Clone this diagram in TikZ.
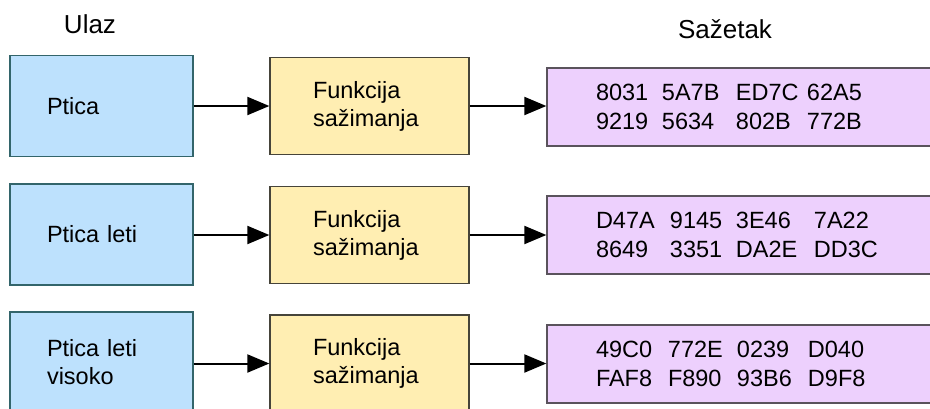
\documentclass[tikz,border=0pt]{standalone}
\usepackage{fontspec}
\setmainfont{Liberation Sans}
\usetikzlibrary{arrows.meta}

\definecolor{inFill}{HTML}{BDE1FD}
\definecolor{inLine}{HTML}{33656B}
\definecolor{fnFill}{HTML}{FFEEB2}
\definecolor{fnLine}{HTML}{46443A}
\definecolor{dgFill}{HTML}{EDD0FD}
\definecolor{dgLine}{HTML}{5A535C}

% four hex groups set in fixed-width columns
\newcommand\hexgroups[7]{\makebox[#1][l]{#4}\makebox[#2][l]{#5}\makebox[#3][l]{#6}#7}

\begin{document}
\begin{tikzpicture}[x=1pt,y=-1pt,
  box/.style={rectangle, line width=1.3pt, align=left, inner ysep=0pt,
    font=\fontsize{23.5}{28}\selectfont},
  inbox/.style={box, fill=inFill, draw=inLine, text width=109pt,
    inner xsep=37pt, minimum height=101pt},
  fnbox/.style={box, fill=fnFill, draw=fnLine, text width=113pt,
    inner xsep=43pt, minimum height=97pt},
  dgbox/.style={box, fill=dgFill, draw=dgLine, text width=302pt,
    inner xsep=49pt, minimum height=78pt,
    font=\fontsize{23.5}{29}\selectfont},
  heading/.style={anchor=base, font=\fontsize{26}{30}\selectfont},
  flow/.style={-{Triangle[length=22pt,width=18pt]}, line width=2pt, black}
]
\useasboundingbox (0,0) rectangle (930,408);
\clip (0,0) rectangle (930,408);

% column headings
\node[heading] (hIn) at (90,33) {Ulaz};
\node[heading] (hOut) at (725,38) {Sažetak};

% row 1
\node[inbox] (in1) at (101.5,106) {Ptica};
\node[fnbox] (fn1) at (369.5,106) {Funkcija\\sažimanja};
\node[dgbox] (dg1) at (747,107) {%
  \hexgroups{66pt}{74pt}{71pt}{8031}{5A7B}{ED7C}{62A5}\\
  \hexgroups{66pt}{74pt}{71pt}{9219}{5634}{802B}{772B}};

% row 2
\node[inbox] (in2) at (101.5,234.5) {Ptica leti};
\node[fnbox] (fn2) at (369.5,235) {Funkcija\\sažimanja};
\node[dgbox] (dg2) at (747,235) {%
  \hexgroups{74pt}{66pt}{78pt}{D47A}{9145}{3E46}{7A22}\\
  \hexgroups{74pt}{66pt}{78pt}{8649}{3351}{DA2E}{DD3C}};

% row 3
\node[inbox] (in3) at (101.5,362.5) {Ptica leti\\visoko};
\node[fnbox] (fn3) at (369.5,363.5) {Funkcija\\sažimanja};
\node[dgbox] (dg3) at (747,364) {%
  \hexgroups{72pt}{69pt}{71pt}{49C0}{772E}{0239}{D040}\\
  \hexgroups{72pt}{69pt}{71pt}{FAF8}{F890}{93B6}{D9F8}};

% connectors, kept horizontal at the level of each function box
\draw[flow] (fn1.west -| in1.east) -- (fn1.west);
\draw[flow] (fn1.east) -- (fn1.east -| dg1.west);
\draw[flow] (fn2.west -| in2.east) -- (fn2.west);
\draw[flow] (fn2.east) -- (fn2.east -| dg2.west);
\draw[flow] (fn3.west -| in3.east) -- (fn3.west);
\draw[flow] (fn3.east) -- (fn3.east -| dg3.west);
\end{tikzpicture}
\end{document}
